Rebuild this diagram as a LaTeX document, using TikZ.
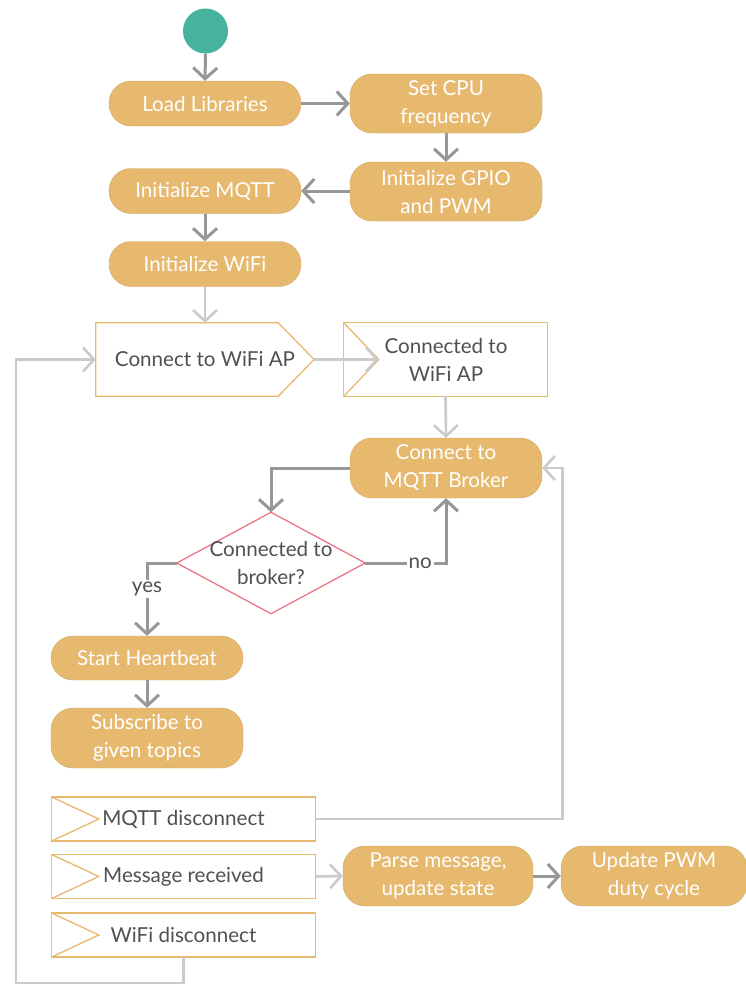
\documentclass[tikz,border=0pt]{standalone}
\usepackage{fontspec}
\setmainfont{Lato}
\usetikzlibrary{arrows.meta,calc}
\definecolor{boxgold}{HTML}{E6B96F}
\definecolor{startgreen}{HTML}{45B39D}
\definecolor{dgrey}{HTML}{979797}
\definecolor{lgrey}{HTML}{CBCBCB}
\definecolor{txtgrey}{HTML}{505050}
\definecolor{diared}{HTML}{E8707A}
\newcommand\dfont{\fontsize{20.6}{28}\selectfont}
\begin{document}
\begin{tikzpicture}[x=1pt,y=-1pt,
  act/.style={fill=boxgold, draw=boxgold!92!black, line width=0.4pt, rounded corners=22pt, text=white,
    minimum width=192pt, inner sep=0pt, align=center, font=\dfont},
  plain/.style={inner sep=0pt, align=center, font=\dfont, text=txtgrey},
  sigline/.style={draw=boxgold, line width=1.3pt, fill=white, line join=miter},
  darr/.style={draw=dgrey, line width=3pt, -{Straight Barb[length=11pt,width=24pt]}},
  larr/.style={draw=lgrey, line width=2.6pt, -{Straight Barb[length=11pt,width=24pt]}},
  dline/.style={draw=dgrey, line width=3pt},
  lbl/.style={fill=white, inner sep=2pt, font=\dfont, text=txtgrey}]
\useasboundingbox (0,0) rectangle (746,985);
\fill[white] (0,0) rectangle (746,985);

% start
\node[circle, fill=startgreen, minimum size=45pt, inner sep=0pt] (start) at (205.5,31) {};

% action boxes
\node[act, minimum height=45pt] (load) at (205,103.5) {Load Libraries};
\node[act, minimum height=59pt] (cpu) at (446,103.5) {Set CPU\\frequency};
\node[act, minimum height=59pt] (gpio) at (446,191.5) {Initialize GPIO\\and PWM};
\node[act, minimum height=45pt] (mqtt) at (205,191) {Initialize MQTT};
\node[act, minimum height=45pt] (wifi) at (205,264) {Initialize WiFi};

% send signal: connect to wifi AP
\node[plain, minimum width=218pt, minimum height=73pt] (cwifi) at (205,359.5) {};
\draw[sigline] (cwifi.north west) -- ($(cwifi.north east)+(-36,0)$) -- (cwifi.east)
  -- ($(cwifi.south east)+(-36,0)$) -- (cwifi.south west) -- cycle;
\node[plain] at (cwifi) {Connect to WiFi AP};

% accept event: connected to wifi AP
\node[plain, minimum width=203pt, minimum height=73pt] (cdone) at (445.5,359.5) {};
\draw[sigline] (cdone.north west) rectangle (cdone.south east);
\draw[sigline] (cdone.north west) -- ($(cdone.west)+(35,0)$) coordinate (cnotch) -- (cdone.south west);
\node[plain] at (446,359.5) {Connected to\\WiFi AP};

% connect to broker
\node[act, minimum height=60pt] (broker) at (446,468) {Connect to\\MQTT Broker};

% decision
\node[plain, minimum width=188pt, minimum height=101pt] (dia) at (271,563) {};
\draw[draw=diared, line width=1.2pt, fill=white] (dia.north) -- (dia.east) -- (dia.south) -- (dia.west) -- cycle;
\node[plain] at (271,563) {Connected to\\broker?};

% heartbeat & subscribe
\node[act, minimum height=44pt] (hb) at (147,658) {Start Heartbeat};
\node[act, minimum height=60pt] (sub) at (147,738) {Subscribe to\\given topics};

% accept events at bottom
\foreach \nm/\yy/\tx in {mdis/819/MQTT disconnect, mrec/876.5/Message received, wdis/935/WiFi disconnect}{
  \node[plain, minimum width=263pt, minimum height=43.5pt] (\nm) at (183.5,\yy) {};
  \draw[sigline] (\nm.north west) rectangle (\nm.south east);
  \draw[sigline] (\nm.north west) -- ($(\nm.west)+(47,0)$) -- (\nm.south west);
  \node[plain] at (183.5,\yy) {\tx};
}

% parse and update
\node[act, minimum width=190pt, minimum height=60pt] (parse) at (438,876) {Parse message,\\update state};
\node[act, minimum width=186pt, minimum height=60pt] (pwm) at (654,876) {Update PWM\\duty cycle};

% connectors
\draw[darr] (start.south) -- (load.north);
\draw[darr] (load.east) -- (cpu.west |- load.east);
\draw[darr] (cpu.south) -- (gpio.north);
\draw[darr] (gpio.west |- mqtt.east) -- (mqtt.east);
\draw[darr] (mqtt.south) -- (wifi.north);
\draw[larr] (wifi.south) -- (cwifi.north);
\draw[larr] (cwifi.east) -- (cnotch);
\draw[larr] (cdone.south) -- (broker.north);
\draw[darr] (broker.west) -| (dia.north);
\draw[dline] (dia.east) -| node[lbl, pos=0.34] {no} ($(broker.south)+(0,12)$);
\draw[darr] ($(broker.south)+(0,12)$) -- (broker.south);
\draw[darr] (dia.west) -| node[lbl, pos=0.68] {yes} (hb.north);
\draw[darr] (hb.south) -- (sub.north);
\draw[larr] (mdis.east) -- ++(247,0) |- (broker.east);
\draw[larr] (mrec.east) -- (parse.west);
\draw[darr] (parse.east) -- (pwm.west);
\coordinate (loopc) at (16,359.5);
\draw[larr] (wdis.south) -- ++(0,26) -| (loopc) -- (cwifi.west);
\end{tikzpicture}
\end{document}
